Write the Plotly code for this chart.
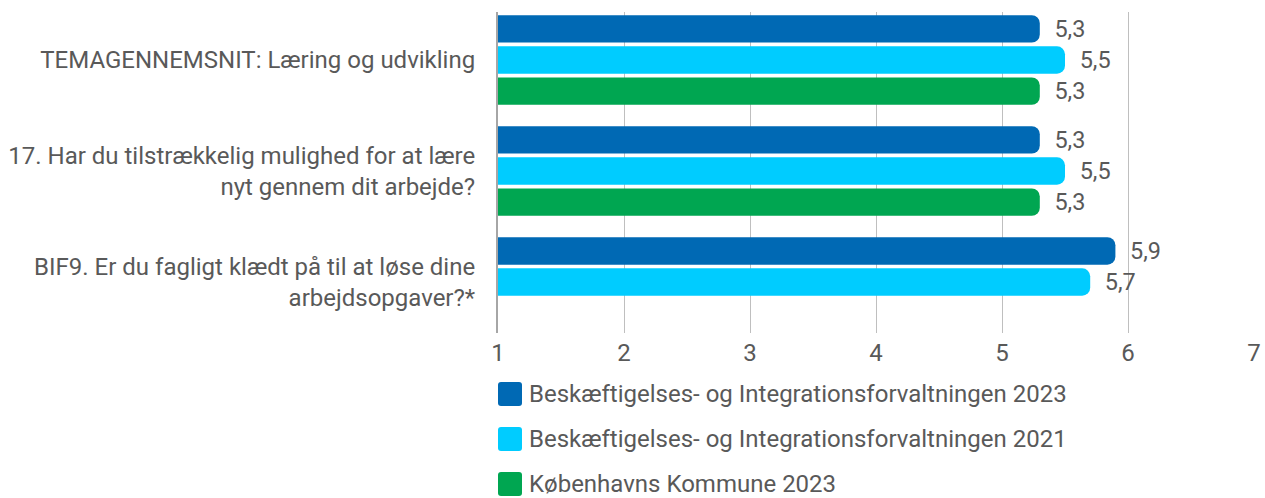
import plotly.graph_objects as go

# Survey questions (y categories) and average scores per series
questions = [
    "TEMAGENNEMSNIT: Læring og udvikling",
    "17. Har du tilstrækkelig mulighed for at lære<br>nyt gennem dit arbejde?",
    "BIF9. Er du fagligt klædt på til at løse dine<br>arbejdsopgaver?*",
]
series_names = [
    "Beskæftigelses- og Integrationsforvaltningen 2023",
    "Beskæftigelses- og Integrationsforvaltningen 2021",
    "Københavns Kommune 2023",
]
bif_2023 = [5.3, 5.3, 5.9]
bif_2021 = [5.5, 5.5, 5.7]
kk_2023 = [5.3, 5.3, None]
x_ticks = [1, 2, 3, 4, 5, 6, 7]

colors = ["#0069B4", "#00CCFF", "#00A651"]
text_color = "#595959"
font_family = "Roboto, Arial, sans-serif"

W, H = 1265, 498
M_L, M_R, M_T, M_B = 498, 11, 12, 165
plot_w = W - M_L - M_R
plot_h = H - M_T - M_B

fig = go.Figure()
for name, vals, col in zip(series_names, [bif_2023, bif_2021, kk_2023], colors):
    fig.add_trace(go.Bar(
        y=questions,
        x=vals,
        name=name,
        orientation="h",
        marker=dict(color=col, line=dict(width=0)),
        texttemplate="\u00a0\u00a0%{x:.1f}",
        textposition="outside",
        cliponaxis=False,
        textfont=dict(size=24, color=text_color, family=font_family),
        showlegend=False,
    ))


# Legend drawn below the plot: rounded swatch + label per series
def px_to_paper(px, py):
    return (px - M_L) / plot_w, (H - M_B - py) / plot_h


def rounded_rect_path(x0, y0, x1, y1, r):
    # pixel box -> paper-space SVG path with rounded corners
    def P(x, y):
        return "%.5f,%.5f" % px_to_paper(x, y)
    pts = [
        "M " + P(x0 + r, y0),
        "L " + P(x1 - r, y0),
        "Q " + P(x1, y0) + " " + P(x1, y0 + r),
        "L " + P(x1, y1 - r),
        "Q " + P(x1, y1) + " " + P(x1 - r, y1),
        "L " + P(x0 + r, y1),
        "Q " + P(x0, y1) + " " + P(x0, y1 - r),
        "L " + P(x0, y0 + r),
        "Q " + P(x0, y0) + " " + P(x0 + r, y0),
    ]
    return " ".join(pts) + " Z"


legend_top = 394
legend_step = 45
swatch = 24
for i, (name, col) in enumerate(zip(series_names, colors)):
    cy = legend_top + i * legend_step
    fig.add_shape(
        type="path",
        xref="paper", yref="paper",
        path=rounded_rect_path(M_L, cy - swatch / 2, M_L + swatch, cy + swatch / 2, 3),
        fillcolor=col,
        line=dict(width=0),
        layer="above",
    )
    tx, ty = px_to_paper(M_L + swatch + 6, cy)
    fig.add_annotation(
        xref="paper", yref="paper",
        x=tx, y=ty,
        xanchor="left", yanchor="middle",
        text=name,
        showarrow=False,
        borderpad=0,
        font=dict(size=24, color=text_color, family=font_family),
    )

fig.update_layout(
    width=W,
    height=H,
    margin=dict(l=M_L, r=M_R, t=M_T, b=M_B, autoexpand=False),
    paper_bgcolor="white",
    plot_bgcolor="white",
    separators=",.",
    barmode="group",
    bargap=0.16,
    bargroupgap=0.12,
    barcornerradius=8,
    font=dict(family=font_family, size=24, color=text_color),
    showlegend=False,
    xaxis=dict(
        range=[1, 7],
        tickvals=x_ticks,
        showgrid=True,
        gridcolor="#BFBFBF",
        gridwidth=1,
        zeroline=False,
        ticks="",
        ticklabelstandoff=3,
        tickfont=dict(size=24, color=text_color),
        fixedrange=True,
    ),
    yaxis=dict(
        range=[2.459, -0.432],
        showline=True,
        linecolor="#A6A6A6",
        linewidth=2,
        ticks="",
        ticklabelstandoff=16,
        tickfont=dict(size=24, color=text_color),
        fixedrange=True,
    ),
)

fig.write_html("out.html")
